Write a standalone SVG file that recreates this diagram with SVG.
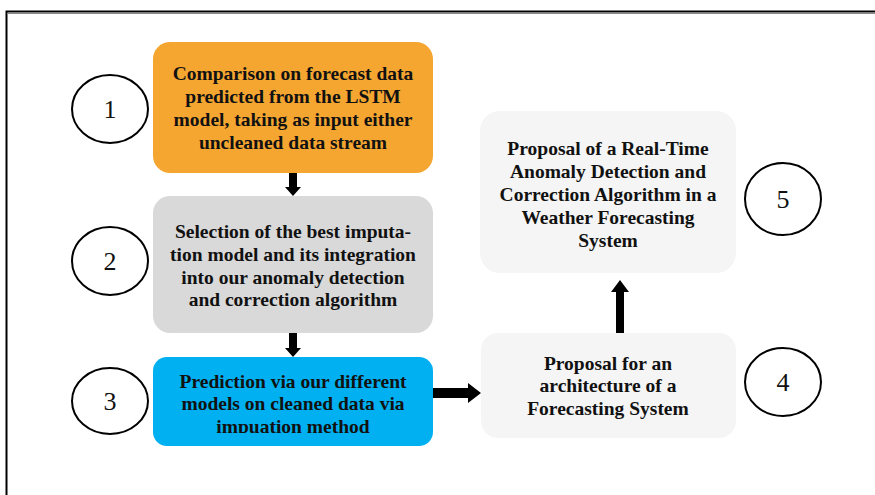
<svg xmlns="http://www.w3.org/2000/svg" width="875" height="495" viewBox="0 0 875 495">
<style>
.t{font-family:"Liberation Serif","Times New Roman",serif;font-weight:bold;font-size:19.5px;fill:#111;text-anchor:middle}
.n{font-family:"Liberation Serif","Times New Roman",serif;font-size:26px;fill:#111;text-anchor:middle}
.c{fill:#fff;stroke:#000;stroke-width:2}
.a{fill:#000}
</style>
<defs>
<clipPath id="clip3"><rect x="153" y="357" width="280" height="76"/></clipPath>
</defs>
<rect width="875" height="495" fill="#fff"/>
<rect x="6.5" y="11.5" width="900" height="520" fill="none" stroke="#000" stroke-width="2"/>
<line x1="7" y1="13.5" x2="875" y2="13.5" stroke="#888" stroke-width="1"/>

<g id="node1">
<rect x="153" y="42" width="280" height="131" rx="17" fill="#F5A631"/>
<text class="t" x="293" y="80">Comparison on forecast data</text>
<text class="t" x="293" y="103">predicted from the LSTM</text>
<text class="t" x="293" y="126">model, taking as input either</text>
<text class="t" x="293" y="149">uncleaned data stream</text>
</g>
<g id="node2">
<rect x="153" y="196" width="280" height="137" rx="17" fill="#D9D9D9"/>
<text class="t" x="293" y="238">Selection of the best imputa-</text>
<text class="t" x="293" y="261">tion model and its integration</text>
<text class="t" x="293" y="284">into our anomaly detection</text>
<text class="t" x="293" y="306">and correction algorithm</text>
</g>
<g id="node3">
<rect x="153" y="357" width="280" height="89" rx="14" fill="#00B0F0"/>
<g clip-path="url(#clip3)">
<text class="t" x="293" y="388">Prediction via our different</text>
<text class="t" x="293" y="410">models on cleaned data via</text>
<text class="t" x="293" y="433">impuation method</text>
</g>
</g>
<g id="node4">
<rect x="481" y="333" width="255" height="105" rx="17" fill="#F5F5F5"/>
<text class="t" x="608" y="370">Proposal for an</text>
<text class="t" x="608" y="392">architecture of a</text>
<text class="t" x="608" y="415">Forecasting System</text>
</g>
<g id="node5">
<rect x="480" y="111" width="256" height="162" rx="20" fill="#F5F5F5"/>
<text class="t" x="608" y="155">Proposal of a Real-Time</text>
<text class="t" x="608" y="178">Anomaly Detection and</text>
<text class="t" x="608" y="201">Correction Algorithm in a</text>
<text class="t" x="608" y="224">Weather Forecasting</text>
<text class="t" x="608" y="247">System</text>
</g>
<g id="label1"><ellipse class="c" cx="110" cy="109" rx="38" ry="34"/><text class="n" x="110" y="118">1</text></g>
<g id="label2"><ellipse class="c" cx="110" cy="261" rx="38" ry="34"/><text class="n" x="110" y="270">2</text></g>
<g id="label3"><ellipse class="c" cx="110" cy="401" rx="38" ry="33"/><text class="n" x="110" y="410">3</text></g>
<g id="label4"><ellipse class="c" cx="783" cy="382" rx="38" ry="34"/><text class="n" x="783" y="391">4</text></g>
<g id="label5"><ellipse class="c" cx="783" cy="199" rx="38" ry="36"/><text class="n" x="783" y="208">5</text></g>

<g id="connectors">
<polygon class="a" points="289,173 297,173 297,187 301,187 293,196 285,187 289,187"/>
<polygon class="a" points="289,333 297,333 297,348 301,348 293,357 285,348 289,348"/>
<polygon class="a" points="433,388 468,388 468,383 481,393 468,403 468,398 433,398"/>
<polygon class="a" points="616,333 624,333 624,292 629,292 620,280 611,292 616,292"/>
</g>
</svg>
